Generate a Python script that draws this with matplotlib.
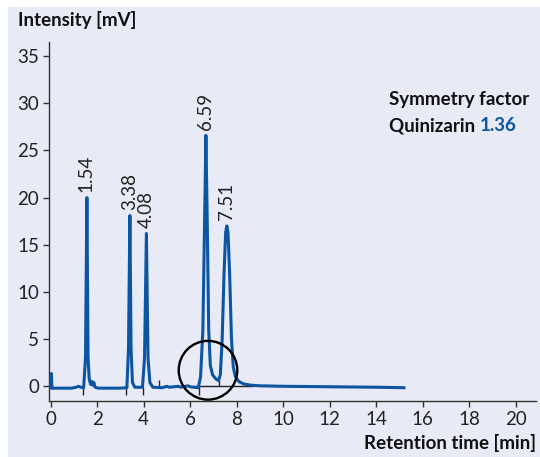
import matplotlib
matplotlib.use("Agg")
import matplotlib.pyplot as plt
from matplotlib.patches import Ellipse, Rectangle

# Chromatogram (time in min, intensity in mV)
t = [0.00, 0.03, 0.06, 0.5, 0.9, 1.1, 1.2, 1.3, 1.42, 1.50, 1.56, 1.61, 1.66, 1.72,
     1.78, 1.82, 1.86, 1.90, 1.96, 2.1, 3.0, 3.28, 3.35, 3.41, 3.46, 3.52, 3.62,
     3.95, 4.04, 4.12, 4.19, 4.27, 4.4, 4.8, 5.0, 5.1, 5.5, 5.6, 5.9, 6.0, 6.35,
     6.45, 6.55, 6.62, 6.68, 6.74, 6.80, 6.87, 6.97, 7.1, 7.22, 7.30, 7.38, 7.46,
     7.53, 7.58, 7.63, 7.70, 7.78, 7.86, 7.95, 8.1, 8.3, 8.6, 9.0, 10.0, 12.0,
     14.0, 15.2]
mv = [-0.15, 1.35, -0.2, -0.2, -0.2, -0.1, 0.0, -0.1, -0.15, 3.0, 20.0, 3.0, 0.8,
      0.2, 0.5, 0.1, 0.4, -0.05, -0.15, -0.2, -0.2, -0.15, 4.0, 18.1, 4.0, 0.4, -0.1,
      -0.1, 3.0, 16.2, 3.0, 0.4, -0.1, -0.15, 0.0, -0.1, 0.0, -0.1, 0.05, -0.05,
      -0.15, 1.0, 6.0, 17.0, 26.6, 17.0, 6.0, 2.2, 1.2, 0.8, 0.6, 1.2, 5.0, 12.0,
      16.3, 17.0, 16.3, 12.0, 5.0, 2.0, 1.0, 0.5, 0.25, 0.12, 0.05, 0.0, -0.05,
      -0.1, -0.15]

# peak labels
peak_t = [1.56, 3.41, 4.12, 6.68, 7.58]
peak_h = [20.0, 18.1, 16.2, 26.6, 17.0]
peak_lbl = ["1.54", "3.38", "4.08", "6.59", "7.51"]

# integration marks
mark_t = [1.40, 3.24, 3.99, 4.67, 6.39, 7.25]
mark_lo = [-0.9, -0.9, -0.9, -0.2, -0.9, 0.0]
mark_hi = [-0.1, -0.1, -0.1, 0.7, 0.0, 0.65]
base_t = [6.2, 8.7]
base_y = [0.0, 0.0]

blue = "#0b55a3"
bg = "#e8eaf5"
plt.rcParams['font.family'] = ['Lato', 'DejaVu Sans']

fig = plt.figure(figsize=(5.4, 4.57), dpi=100)
fig.patch.set_facecolor("white")
fig.patches.append(Rectangle((8/540, 0), 1, 1 - 7/457, transform=fig.transFigure,
                             facecolor=bg, edgecolor="none", zorder=-10))
ax = fig.add_axes([49/540, 1 - 401/457, (536 - 49)/540, (401 - 42)/457])
ax.set_facecolor("none")

ax.plot(t, mv, color=blue, lw=2.2, solid_joinstyle="round", zorder=3)
ax.vlines(mark_t, mark_lo, mark_hi, color="#222222", lw=1.0, zorder=2)
ax.plot(base_t, base_y, color="#222222", lw=1.0, zorder=2)

for x, h, s in zip(peak_t, peak_h, peak_lbl):
    ax.text(x - 0.02, h + 0.6, s, rotation=90, ha="center", va="bottom",
            fontsize=13.5, color="#222222")

ax.add_patch(Ellipse((6.77, 1.7), 2.52, 6.23, fill=False, edgecolor="black",
                     lw=1.7, zorder=4, clip_on=False))

ax.text(14.56, 30.4, "Symmetry factor", fontsize=13.5, fontweight="bold",
        va="center", ha="left", color="#111111")
q = ax.text(14.56, 27.6, "Quinizarin ", fontsize=13.5, fontweight="bold",
            va="center", ha="left", color="#111111")
ax.annotate("1.36", xy=(1, 0), xycoords=q, va="bottom", ha="left",
            fontsize=13.5, fontweight="bold", color=blue)

ax.set_xlim(-0.07, 20.88)
ax.set_ylim(-1.56, 36.5)
ax.set_xticks(range(0, 21, 2))
ax.set_yticks(range(0, 36, 5))
for s in ["top", "right"]:
    ax.spines[s].set_visible(False)
for s in ["left", "bottom"]:
    ax.spines[s].set_color("#333333")
    ax.spines[s].set_linewidth(1.0)
ax.tick_params(direction="out", length=4, width=1.0, color="#333333",
               labelsize=13.5, labelcolor="#222222", pad=3)

fig.text(18/540, 1 - 20/457, "Intensity [mV]", fontsize=13.5, fontweight="bold",
         va="center", ha="left", color="#111111")
fig.text(536/540, 1 - 443/457, "Retention time [min]", fontsize=13.5,
         fontweight="bold", va="center", ha="right", color="#111111")

fig.savefig("out.png", dpi=100, facecolor=fig.get_facecolor())
